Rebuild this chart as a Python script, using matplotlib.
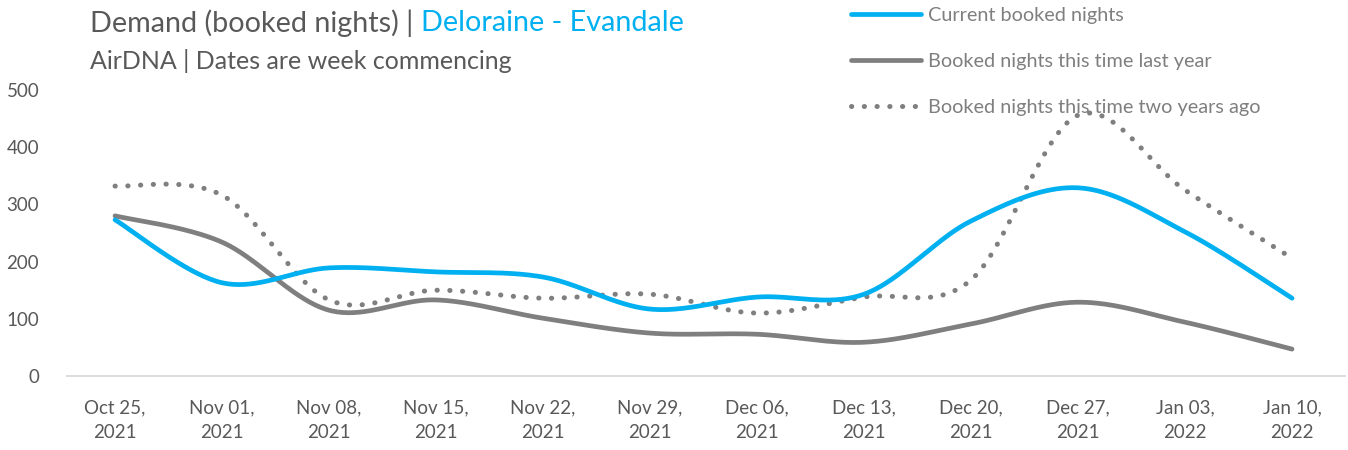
import numpy as np
import matplotlib.pyplot as plt
from matplotlib.lines import Line2D

# data
weeks = ["Oct 25,\n2021", "Nov 01,\n2021", "Nov 08,\n2021", "Nov 15,\n2021",
         "Nov 22,\n2021", "Nov 29,\n2021", "Dec 06,\n2021", "Dec 13,\n2021",
         "Dec 20,\n2021", "Dec 27,\n2021", "Jan 03,\n2022", "Jan 10,\n2022"]
current = [273, 163, 189, 182, 173, 117, 138, 143, 271, 329, 252, 136]
last_year = [280, 234, 115, 133, 101, 75, 73, 59, 91, 129, 94, 47]
two_years = [332, 316, 133, 150, 136, 143, 110, 138, 168, 456, 325, 206]

BLUE = "#00B0F0"
GREY = "#7F7F7F"
TXT = "#595959"
FONT = "Lato"
DOTS = (0, (0.05, 2.5))


def smooth(y, n=40):
    # Excel-style smoothed line: bezier through the points (catmull-rom)
    y = np.asarray(y, float)
    x = np.arange(len(y), dtype=float)
    pts = np.column_stack([x, y])
    ext = np.vstack([pts[0], pts, pts[-1]])
    out = []
    t = np.linspace(0, 1, n)[:, None]
    for i in range(len(pts) - 1):
        p0, p3 = ext[i + 1], ext[i + 2]
        c1 = p0 + (ext[i + 2] - ext[i]) / 6
        c2 = p3 - (ext[i + 3] - ext[i + 1]) / 6
        seg = ((1 - t) ** 3) * p0 + 3 * ((1 - t) ** 2) * t * c1 + 3 * (1 - t) * t ** 2 * c2 + t ** 3 * p3
        out.append(seg if i == 0 else seg[1:])
    seg = np.vstack(out)
    return seg[:, 0], seg[:, 1]


plt.rcParams["font.family"] = [FONT, "DejaVu Sans"]
fig = plt.figure(figsize=(13.48, 4.5), dpi=100)
ax = fig.add_axes([67 / 1348, 74 / 450, 1278 / 1348, 286 / 450])

sx, sy = smooth(two_years)
ax.plot(sx, sy, color=GREY, lw=3.6, linestyle=DOTS, dash_capstyle="round")
sx, sy = smooth(last_year)
ax.plot(sx, sy, color=GREY, lw=3.4, solid_capstyle="round")
sx, sy = smooth(current)
ax.plot(sx, sy, color=BLUE, lw=3.4, solid_capstyle="round")

ax.set_xlim(-0.449, 11.495)
ax.set_ylim(0, 500)
ax.set_xticks(range(len(weeks)))
ax.set_xticklabels(weeks, fontsize=13.5, color=TXT, linespacing=1.55)
ax.set_yticks([0, 100, 200, 300, 400, 500])
ax.tick_params(axis="both", length=0, colors=TXT, labelsize=13.5)
ax.tick_params(axis="x", pad=17)
ax.tick_params(axis="y", pad=20)
for s in ["top", "right", "left"]:
    ax.spines[s].set_visible(False)
ax.spines["bottom"].set_color("#D9D9D9")
ax.spines["bottom"].set_linewidth(1.3)

# title in two colours
t1 = fig.text(90 / 1348, 1 - 23 / 450, "Demand (booked nights) | ", fontsize=20.7,
              color=TXT, va="center", ha="left")
fig.canvas.draw()
bb = t1.get_window_extent()
fig.text(bb.x1 / 1348, 1 - 23 / 450, "Deloraine - Evandale", fontsize=20.7,
         color=BLUE, va="center", ha="left")
fig.text(90 / 1348, 1 - 61 / 450, "AirDNA | Dates are week commencing", fontsize=18,
         color=TXT, va="center", ha="left")

handles = [
    Line2D([], [], color=BLUE, lw=3.4, solid_capstyle="round"),
    Line2D([], [], color=GREY, lw=3.4, solid_capstyle="round"),
    Line2D([], [], color=GREY, lw=3.6, linestyle=DOTS, dash_capstyle="round"),
]
labels = ["Current booked nights", "Booked nights this time last year",
          "Booked nights this time two years ago"]
leg = fig.legend(handles, labels, loc="upper left", bbox_to_anchor=(850 / 1348, 1 - 6 / 450),
                 frameon=False, fontsize=14.3, handlelength=3.5, handletextpad=0.4,
                 labelspacing=1.45, borderaxespad=0, borderpad=0.05)
for txt in leg.get_texts():
    txt.set_color(GREY)

fig.savefig("out.png", dpi=100)
